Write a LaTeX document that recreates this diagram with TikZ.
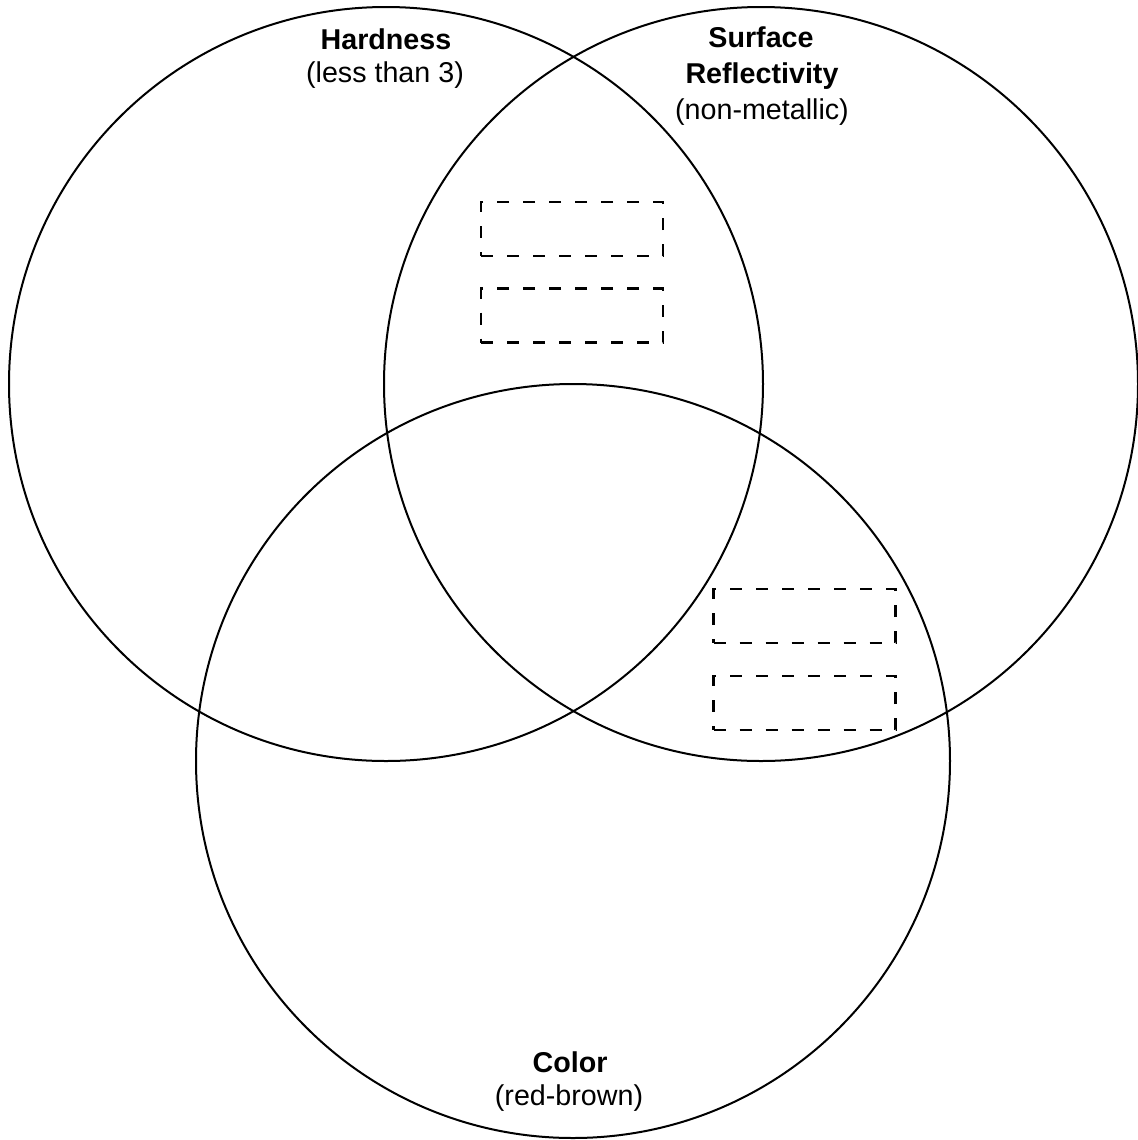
\documentclass[tikz,border=0pt]{standalone}
\usepackage{fontspec}
\setmainfont{Liberation Sans}
\begin{document}
\begin{tikzpicture}[x=0.75pt,y=-0.75pt,
  venn/.style={draw=black,line width=1.5pt,circle,minimum size=565.5pt,inner sep=0pt},
  slot/.style={draw=black,line width=1.8pt,dash pattern=on 9pt off 10.5pt,minimum width=136.5pt,minimum height=40.5pt,inner sep=0pt},
  ttl/.style={anchor=base,inner sep=0pt,font=\fontsize{21.5}{25}\selectfont\bfseries},
  sub/.style={anchor=base,inner sep=0pt,font=\fontsize{21.5}{25}\selectfont}]
\useasboundingbox[fill=white] (0,0) rectangle (1138,1140);
\node[venn] (hard) at (386,384) {};
\node[venn] (refl) at (761,384) {};
\node[venn] (col) at (573,761) {};
\node[slot] (s1) at (572,229) {};
\node[slot] (s2) at (572,315.5) {};
\node[slot] (s3) at (804.5,616) {};
\node[slot] (s4) at (804.5,703) {};
\node[ttl] (t1) at (386,49) {Hardness};
\node[sub] (t1b) at (385,82) {(less than 3)};
\node[ttl] (t2) at (761,47) {Surface};
\node[ttl] (t2b) at (762,83) {Reflectivity};
\node[sub] (t2c) at (762,119) {(non-metallic)};
\node[ttl] (t3) at (570,1072) {Color};
\node[sub] (t3b) at (569,1105) {(red-brown)};
\end{tikzpicture}
\end{document}
